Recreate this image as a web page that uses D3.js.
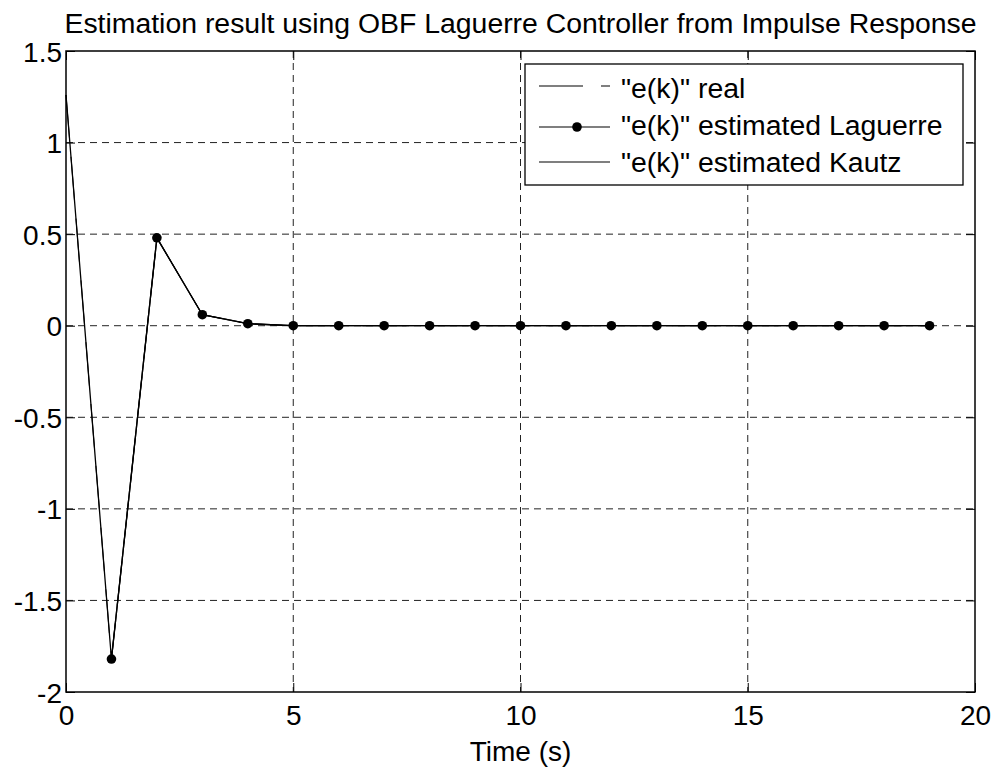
<!DOCTYPE html>
<html>
<head>
<meta charset="utf-8">
<script src="https://cdn.jsdelivr.net/npm/d3@7"></script>
<style>
  html, body { margin: 0; padding: 0; background: #fff; }
  text { font-family: "Liberation Sans", Arial, Helvetica, sans-serif; fill: #000; }
</style>
</head>
<body>
<svg id="chart" width="995" height="769"></svg>
<script>
// ---- data ----
const timeSteps = [0,1,2,3,4,5,6,7,8,9,10,11,12,13,14,15,16,17,18,19];
const eReal     = [1.26,-1.82,0.48,0.06,0.011,0,0,0,0,0,0,0,0,0,0,0,0,0,0,0];
const eKautz    = [1.26,-1.82,0.48,0.06,0.011,0,0,0,0,0,0,0,0,0,0,0,0,0,0,0];
const lagSteps  = [1,2,3,4,5,6,7,8,9,10,11,12,13,14,15,16,17,18,19];
const eLaguerre = [-1.82,0.48,0.06,0.011,0,0,0,0,0,0,0,0,0,0,0,0,0,0,0];
const xTicks = [0,5,10,15,20];
const yTicks = [-2,-1.5,-1,-0.5,0,0.5,1,1.5];
const legendLabels = ['"e(k)" real','"e(k)" estimated Laguerre','"e(k)" estimated Kautz'];
const titleText = "Estimation result using OBF Laguerre Controller from Impulse Response";
const xLabelText = "Time (s)";

// ---- layout ----
const L = 66, R = 975, T = 51, B = 692;
const FS = 28;
const svg = d3.select("#chart");
svg.append("rect").attr("width",995).attr("height",769).attr("fill","#fff");

const x = d3.scaleLinear().domain([0,20]).range([L,R]);
const y = d3.scaleLinear().domain([-2,1.5]).range([B,T]);

// grid
const g = svg.append("g");
g.selectAll(".gx").data(xTicks.filter(d => d > 0 && d < 20)).enter().append("line")
  .attr("x1", d => x(d)).attr("x2", d => x(d)).attr("y1", T).attr("y2", B)
  .attr("stroke", "#222").attr("stroke-width", 1).attr("stroke-dasharray", "7,5");
g.selectAll(".gy").data(yTicks.filter(d => d > -2 && d < 1.5)).enter().append("line")
  .attr("x1", L).attr("x2", R).attr("y1", d => y(d)).attr("y2", d => y(d))
  .attr("stroke", "#222").attr("stroke-width", 1).attr("stroke-dasharray", "7,5");

// axes with inward ticks
const TL = 9;
const xAxisB = d3.axisBottom(x).tickValues(xTicks).tickSizeInner(-TL).tickSizeOuter(0).tickFormat(d3.format("d"));
const xAxisT = d3.axisTop(x).tickValues(xTicks).tickSizeInner(-TL).tickSizeOuter(0).tickFormat("");
const yAxisL = d3.axisLeft(y).tickValues(yTicks).tickSizeInner(-TL).tickSizeOuter(0).tickPadding(4).tickFormat(d => String(d).replace("\u2212","-"));
const yAxisR = d3.axisRight(y).tickValues(yTicks).tickSizeInner(-TL).tickSizeOuter(0).tickFormat("");

function styleAxis(sel) {
  sel.select(".domain").remove();
  sel.selectAll(".tick line").attr("stroke", "#000").attr("stroke-width", 1);
  sel.selectAll("text").attr("font-size", FS).attr("font-family", '"Liberation Sans", Arial, sans-serif').attr("fill", "#000");
}
const gxb = svg.append("g").attr("transform", `translate(0,${B})`).call(xAxisB).call(styleAxis);
gxb.selectAll("text").attr("dy", null).attr("y", 33);
svg.append("g").attr("transform", `translate(0,${T})`).call(xAxisT).call(styleAxis);
const gyl = svg.append("g").attr("transform", `translate(${L},0)`).call(yAxisL).call(styleAxis);
gyl.selectAll("text").attr("dy", "0.36em");
svg.append("g").attr("transform", `translate(${R},0)`).call(yAxisR).call(styleAxis);

// box
svg.append("rect").attr("x", L).attr("y", T).attr("width", R - L).attr("height", B - T)
  .attr("fill", "none").attr("stroke", "#000").attr("stroke-width", 1.5);

// series
const line = d3.line().x(d => x(d[0])).y(d => y(d[1]));
const realPts = timeSteps.map((t,i) => [t, eReal[i]]);
const kautzPts = timeSteps.map((t,i) => [t, eKautz[i]]);
const lagPts = lagSteps.map((t,i) => [t, eLaguerre[i]]);

svg.append("path").datum(realPts).attr("d", line).attr("fill","none")
  .attr("stroke","#000").attr("stroke-width",1).attr("stroke-dasharray","44,18");
svg.append("path").datum(lagPts).attr("d", line).attr("fill","none")
  .attr("stroke","#000").attr("stroke-width",1.3);
svg.selectAll(".mk").data(lagPts).enter().append("circle")
  .attr("cx", d => x(d[0])).attr("cy", d => y(d[1])).attr("r", 4.8).attr("fill", "#000");
svg.append("path").datum(kautzPts).attr("d", line).attr("fill","none")
  .attr("stroke","#000").attr("stroke-width",1.3);

// legend
const lg = svg.append("g");
lg.append("rect").attr("x", 525).attr("y", 64).attr("width", 438).attr("height", 121)
  .attr("fill", "#fff").attr("stroke", "#000").attr("stroke-width", 1.3);
const lineYs = [86, 127, 162];
const textYs = [98, 135, 172];
// real
lg.append("line").attr("x1", 539).attr("x2", 610).attr("y1", lineYs[0]).attr("y2", lineYs[0])
  .attr("stroke", "#000").attr("stroke-width", 1.2).attr("stroke-dasharray", "44,18");
// laguerre
lg.append("line").attr("x1", 539).attr("x2", 610).attr("y1", lineYs[1]).attr("y2", lineYs[1])
  .attr("stroke", "#000").attr("stroke-width", 1.2);
lg.append("circle").attr("cx", 577).attr("cy", lineYs[1]).attr("r", 4.8).attr("fill", "#000");
// kautz
lg.append("line").attr("x1", 539).attr("x2", 610).attr("y1", lineYs[2]).attr("y2", lineYs[2])
  .attr("stroke", "#000").attr("stroke-width", 1.2);
lg.selectAll(".lt").data(legendLabels).enter().append("text")
  .attr("x", 621).attr("y", (d,i) => textYs[i]).attr("font-size", 28.4).text(d => d);

// title & label
svg.append("text").attr("x", (L + R) / 2).attr("y", 33).attr("text-anchor", "middle")
  .attr("font-size", 28.4).text(titleText);
svg.append("text").attr("x", (L + R) / 2).attr("y", 761).attr("text-anchor", "middle")
  .attr("font-size", FS).text(xLabelText);
</script>
</body>
</html>
